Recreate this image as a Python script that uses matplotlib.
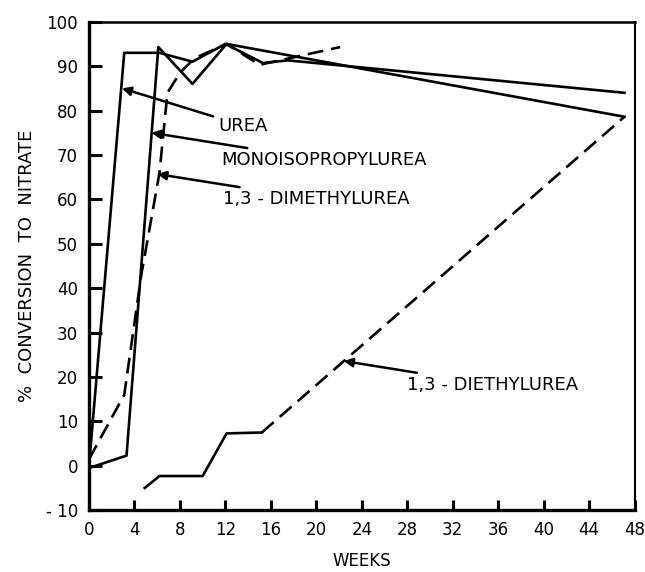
import matplotlib.pyplot as plt
import numpy as np

# Values (weeks, % conversion to nitrate)
urea_weeks = [0, 3.1, 6.2, 9.1, 12.0, 15.3, 17.5, 47.1]
urea_vals = [0, 93, 93, 91, 95, 90.7, 91.3, 84]

mono_weeks = [0, 3.3, 6.1, 9.1, 12.1, 47.1]
mono_vals = [-0.5, 2.3, 94.3, 86, 95, 78.6]

dimethyl_weeks = [0, 3.1, 4.6, 6.2, 6.9, 8.0, 9.3, 12.1, 15.0, 22.1]
dimethyl_vals = [1.5, 16, 43, 66, 84, 88.5, 91.8, 95, 90.3, 94.3]

diethyl_weeks = [4.9, 6.2, 10.0, 12.1, 15.2, 47.1]
diethyl_vals = [-5, -2.3, -2.3, 7.3, 7.5, 78.6]
diethyl_solid_end = 4  # index where the line turns dashed

x_ticks = list(range(0, 49, 4))
y_ticks = list(range(-10, 101, 10))
y_tick_labels = ["- 10"] + [str(v) for v in y_ticks[1:]]

# annotation: label, text pos, arrow tip
notes = [
    ("UREA", (11.4, 76.6), (2.9, 85.0)),
    ("MONOISOPROPYLUREA", (11.6, 68.8), (5.5, 75.0)),
    ("1,3 - DIMETHYLUREA", (11.8, 60.0), (6.0, 65.7)),
    ("1,3 - DIETHYLUREA", (28.0, 18.2), (22.4, 23.6)),
]

plt.rcParams["font.family"] = ["DejaVu Sans"]

fig = plt.figure(figsize=(6.45, 5.72), dpi=100)
ax = fig.add_axes([0.138, 0.108, 0.846, 0.854])

lw = 1.9
dash = (0, (6, 3))
ax.plot(urea_weeks, urea_vals, color="black", lw=lw)
ax.plot(mono_weeks, mono_vals, color="black", lw=lw)
ax.plot(dimethyl_weeks, dimethyl_vals, color="black", lw=lw, linestyle=dash)
k = diethyl_solid_end
ax.plot(diethyl_weeks[:k + 1], diethyl_vals[:k + 1], color="black", lw=lw)
ax.plot(diethyl_weeks[k:], diethyl_vals[k:], color="black", lw=lw, linestyle=dash)

for label, (tx, ty), (ax_, ay) in notes:
    ax.annotate(label, xy=(ax_, ay), xytext=(tx, ty), fontsize=13,
                va="center", ha="left",
                arrowprops=dict(arrowstyle="-|>", color="black", lw=1.8,
                                mutation_scale=13, shrinkA=2, shrinkB=0))

ax.set_xlim(0, 48)
ax.set_ylim(-10, 100)
ax.set_xticks(x_ticks)
ax.set_yticks(y_ticks)
ax.set_yticklabels(y_tick_labels)
ax.tick_params(axis="both", direction="in", labelsize=12, color="black")
ax.tick_params(axis="y", length=9, width=2.2, pad=8)
ax.tick_params(axis="x", length=7, width=2.2, pad=8)

for side in ["left", "bottom"]:
    ax.spines[side].set_linewidth(2.4)
ax.spines["top"].set_linewidth(1.8)
ax.spines["right"].set_linewidth(1.5)

ax.set_xlabel("WEEKS", fontsize=12, labelpad=9)
ax.set_ylabel("%  CONVERSION  TO  NITRATE", fontsize=13, labelpad=7)

fig.savefig("out.png", dpi=100)
